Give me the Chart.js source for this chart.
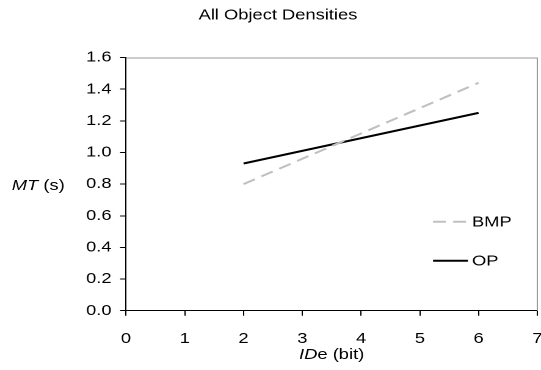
<!DOCTYPE html>
<html>
<head>
<meta charset="utf-8">
<script src="https://cdn.jsdelivr.net/npm/chart.js@4"></script>
<style>
  html, body { margin: 0; padding: 0; background: #fff; overflow: hidden; }
  /* the reference is stretched horizontally, so draw narrow and widen it */
  #wrap { width: 443px; height: 370px; transform: scaleX(1.2212); transform-origin: 0 0; }
</style>
</head>
<body>
<div id="wrap"><canvas id="chart"></canvas></div>
<script>
// data
const idValues  = [2, 6];
const bmpValues = [0.80, 1.44];
const opValues  = [0.93, 1.25];
const seriesNames = ["BMP", "OP"];

const FONT = "'Liberation Sans', Arial, sans-serif";
const SIZE = 15;

function points(ys) {
  return idValues.map((x, i) => ({ x: x, y: ys[i] }));
}

// gray frame on top/right, axis titles with italic parts, inside legend
const extras = {
  id: "extras",
  afterDraw(chart) {
    const ctx = chart.ctx;
    const a = chart.chartArea;
    ctx.save();

    ctx.strokeStyle = "#999";
    ctx.lineWidth = 1;
    ctx.beginPath();
    ctx.moveTo(a.left, a.top + 0.5);
    ctx.lineTo(a.right, a.top + 0.5);
    ctx.lineTo(a.right, a.bottom);
    ctx.stroke();

    ctx.fillStyle = "#000";
    ctx.textBaseline = "middle";

    function mixed(parts, x, y, align) {
      let w = 0;
      parts.forEach(p => { ctx.font = p[1] + " " + SIZE + "px " + FONT; w += ctx.measureText(p[0]).width; });
      let cx = align === "center" ? x - w / 2 : x - w;
      ctx.textAlign = "left";
      parts.forEach(p => {
        ctx.font = p[1] + " " + SIZE + "px " + FONT;
        ctx.fillText(p[0], cx, y);
        cx += ctx.measureText(p[0]).width;
      });
    }
    mixed([["MT", "italic"], [" (s)", "normal"]], 53, 186, "right");
    mixed([["ID", "italic"], ["e (bit)", "normal"]], (a.left + a.right) / 2, 355, "center");

    // legend
    chart.data.datasets.forEach((ds, i) => {
      const y = 221.7 + i * 39;
      ctx.strokeStyle = ds.borderColor;
      ctx.lineWidth = ds.borderWidth;
      ctx.setLineDash(ds.borderDash || []);
      ctx.beginPath();
      ctx.moveTo(354.6, y);
      ctx.lineTo(383.2, y);
      ctx.stroke();
      ctx.setLineDash([]);
      ctx.font = SIZE + "px " + FONT;
      ctx.textAlign = "left";
      ctx.fillText(ds.label, 386.5, y + 0.5);
    });

    ctx.restore();
  }
};

new Chart(document.getElementById("chart"), {
  type: "line",
  data: {
    datasets: [
      {
        label: seriesNames[0],
        data: points(bmpValues),
        borderColor: "#c0c0c0",
        borderWidth: 2,
        borderDash: [10.5, 6],
        pointRadius: 0,
        fill: false
      },
      {
        label: seriesNames[1],
        data: points(opValues),
        borderColor: "#000",
        borderWidth: 2,
        pointRadius: 0,
        fill: false
      }
    ]
  },
  options: {
    responsive: true,
    maintainAspectRatio: false,
    animation: false,
    devicePixelRatio: 2,
    layout: { padding: { left: 15.2, right: 3, top: 0, bottom: 0 } },
    plugins: {
      legend: { display: false },
      tooltip: { enabled: false },
      title: {
        display: true,
        text: "All Object Densities",
        color: "#000",
        font: { family: FONT, size: SIZE, weight: "normal" },
        padding: { top: 6.5, bottom: 33 }
      }
    },
    scales: {
      x: {
        type: "linear",
        min: 0,
        max: 7,
        ticks: { stepSize: 1, color: "#000", font: { family: FONT, size: SIZE }, padding: 14, maxRotation: 0 },
        grid: { drawOnChartArea: false, drawTicks: true, tickLength: 5, tickColor: "#000" },
        border: { color: "#000", width: 1 },
        afterFit(scale) {
          scale.height = 59.3;
          scale.paddingLeft = 0;
          scale.paddingRight = 0;
        }
      },
      y: {
        min: 0,
        max: 1.6,
        ticks: {
          stepSize: 0.2,
          color: "#000",
          font: { family: FONT, size: SIZE },
          padding: 7,
          callback: v => Number(v).toFixed(1)
        },
        grid: { drawOnChartArea: false, drawTicks: true, tickLength: 4.9, tickColor: "#000" },
        border: { color: "#000", width: 1 },
        afterFit(scale) {
          scale.width = 88;
        }
      }
    }
  },
  plugins: [extras]
});
</script>
</body>
</html>
